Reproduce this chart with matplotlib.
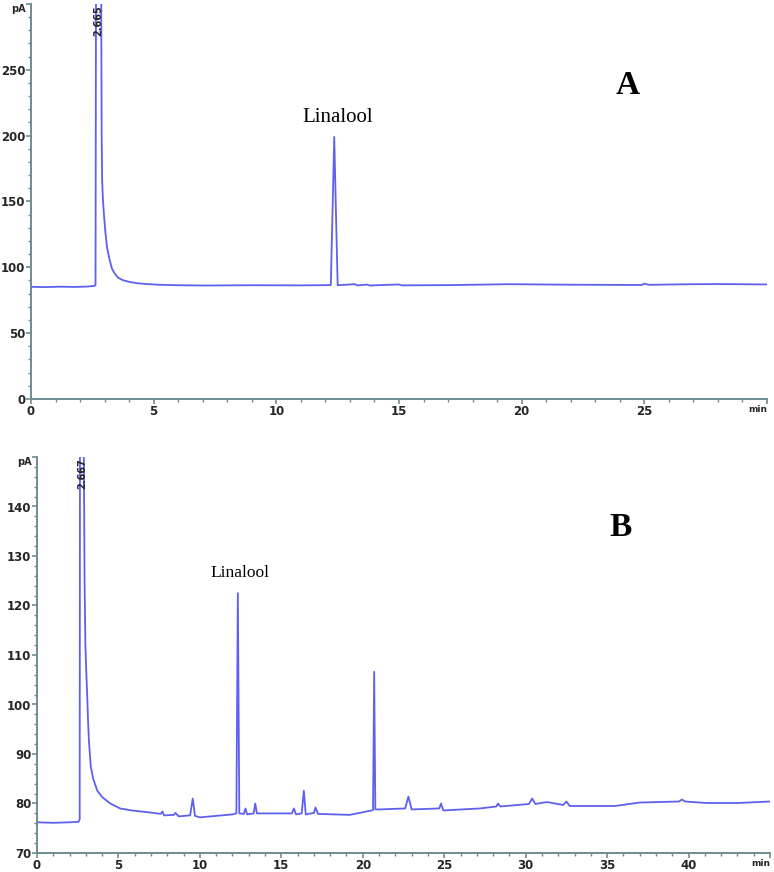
#!/usr/bin/env python3
"""
plot.py: GC-FID chromatograms, (A) linalool standard and (B) sample extract.
"""
import numpy as np
import matplotlib
matplotlib.use("Agg")
import matplotlib.pyplot as plt
from matplotlib.ticker import MultipleLocator

# ---- panel A: standard (retention time in min, signal in pA) ----
time_a = [0.0, 0.6, 1.2, 1.8, 2.3, 2.58, 2.63, 2.65, 2.86, 2.88, 2.90, 2.93, 2.97,
          3.03, 3.10, 3.20, 3.30, 3.42, 3.56, 3.75, 4.0, 4.3, 4.7, 5.2, 6.0, 7.0,
          9.0, 11.0, 12.22, 12.30, 12.36, 12.42, 12.50, 13.2, 13.3, 13.7, 13.8,
          15.0, 15.1, 17.0, 19.5, 22.0, 24.9, 25.0, 25.2, 26.5, 28.0, 30.0]
signal_a = [85.2, 85.0, 85.3, 85.1, 85.4, 85.9, 86.5, 320.0, 320.0, 200.0, 166.0, 152.0, 141.0,
            127.0, 115.0, 106.0, 99.0, 95.0, 92.0, 90.2, 89.0, 88.0, 87.3, 86.8, 86.4, 86.2,
            86.4, 86.3, 86.5, 150.0, 199.0, 150.0, 86.4, 87.2, 86.3, 86.9, 86.2,
            87.0, 86.3, 86.5, 87.2, 86.8, 86.6, 87.6, 86.7, 87.1, 87.3, 87.0]

# ---- panel B: sample ----
time_b = [0.0, 1.0, 2.0, 2.55, 2.62, 2.64, 2.86, 2.92, 2.97, 3.03, 3.07, 3.13,
          3.19, 3.30, 3.45, 3.70, 4.0, 4.5, 5.1, 5.8, 6.9, 7.6, 7.7, 7.8, 8.4,
          8.5, 8.7, 9.4, 9.56, 9.7, 10.0, 12.0, 12.24, 12.33, 12.42, 12.7, 12.8,
          12.9, 13.3, 13.4, 13.5, 15.0, 15.65, 15.77, 15.9, 16.25, 16.38, 16.5,
          17.0, 17.1, 17.25, 19.2, 20.55, 20.63, 20.7, 20.77, 21.0, 22.6, 22.8,
          23.0, 24.7, 24.8, 24.95, 27.2, 28.2, 28.3, 28.45, 30.2, 30.4, 30.6, 31.3,
          32.3, 32.5, 32.7, 35.5, 37.0, 39.4, 39.6, 39.8, 41.1, 43.0, 45.0]
signal_b = [76.2, 76.1, 76.2, 76.3, 76.8, 160.0, 160.0, 125.0, 112.0, 106.0, 103.0, 97.0,
            92.6, 87.5, 85.0, 82.6, 81.3, 80.0, 79.0, 78.6, 78.2, 77.9, 78.4, 77.6, 77.7,
            78.1, 77.4, 77.6, 81.0, 77.5, 77.2, 77.8, 78.0, 122.5, 78.0, 77.9, 79.0,
            77.8, 78.0, 80.0, 78.0, 78.0, 78.0, 79.0, 77.8, 78.0, 82.6, 77.8,
            78.1, 79.2, 77.9, 77.7, 78.6, 78.7, 106.6, 78.8, 78.8, 79.0, 81.4,
            78.8, 79.0, 80.0, 78.6, 79.0, 79.4, 80.0, 79.4, 79.9, 81.0, 79.9, 80.3,
            79.7, 80.4, 79.5, 79.5, 80.2, 80.4, 80.8, 80.4, 80.1, 80.1, 80.4]

W, H = 774, 872
LINE = "#6060f0"
SPINE = "#6f8c92"
TXT = "#262626"
SANS = "DejaVu Sans"


def fx(px):
    return px / W


def fy(py):
    return 1 - py / H


def style_axis(ax, xmax, ymin, ymax, ymaj, ymin_step):
    for side in ("top", "right"):
        ax.spines[side].set_visible(False)
    for side in ("left", "bottom"):
        ax.spines[side].set_color(SPINE)
        ax.spines[side].set_linewidth(1.4)
    ax.set_xlim(0, xmax)
    ax.set_ylim(ymin, ymax)
    xt = np.arange(0, xmax + 1, 5)
    ax.set_xticks(xt)
    ax.set_xticklabels([str(int(v)) for v in xt[:-1]] + ["min"])
    ax.xaxis.set_minor_locator(MultipleLocator(1))
    yt = np.arange(ymin, ymax + 1, ymaj)
    ax.set_yticks(yt)
    ax.set_yticklabels([str(int(v)) for v in yt[:-1]] + ["pA"])
    ax.yaxis.set_minor_locator(MultipleLocator(ymin_step))
    ax.tick_params(which="major", length=3.5, width=1.2, color=SPINE,
                   labelsize=8.5, labelcolor=TXT, pad=0.5)
    ax.tick_params(which="minor", length=2.5, width=1.0, color=SPINE)
    for lab in ax.get_xticklabels() + ax.get_yticklabels():
        lab.set_family(SANS)
        lab.set_fontweight("bold")
    last_x = ax.get_xticklabels()[-1]
    last_x.set_fontsize(6.5)
    last_x.set_horizontalalignment("right")
    last_y = ax.get_yticklabels()[-1]
    last_y.set_fontsize(7)
    last_y.set_verticalalignment("top")
    ax.patch.set_alpha(0)


fig = plt.figure(figsize=(W / 100, H / 100), dpi=100)

# panel A
ax1 = fig.add_axes([fx(31), fy(399), fx(767 - 31), (399 - 4) / H])
ax1.plot(time_a, signal_a, color=LINE, lw=1.3)
style_axis(ax1, 30, 0, 300, 50, 10)
ax1.text(2.75, 299, "2.665", rotation=90, ha="center", va="top",
         fontsize=7, fontweight="bold", family=SANS, color=TXT)

# panel B
ax2 = fig.add_axes([fx(37), fy(853), fx(770 - 37), (853 - 457) / H])
ax2.plot(time_b, signal_b, color=LINE, lw=1.3)
style_axis(ax2, 45, 70, 150, 10, 2)
ax2.text(2.75, 149.7, "2.667", rotation=90, ha="center", va="top",
         fontsize=7, fontweight="bold", family=SANS, color=TXT)

# annotations
serif = "Liberation Serif"
fig.text(fx(338), fy(117), "Linalool", family=serif, fontsize=15,
         ha="center", va="center", color="black")
fig.text(fx(240), fy(573), "Linalool", family=serif, fontsize=12.5,
         ha="center", va="center", color="black")
fig.text(fx(628), fy(85), "A", family=serif, fontsize=24, fontweight="bold",
         ha="center", va="center", color="black")
fig.text(fx(621), fy(527), "B", family=serif, fontsize=24, fontweight="bold",
         ha="center", va="center", color="black")

fig.savefig("out.png", dpi=100, facecolor="white")
